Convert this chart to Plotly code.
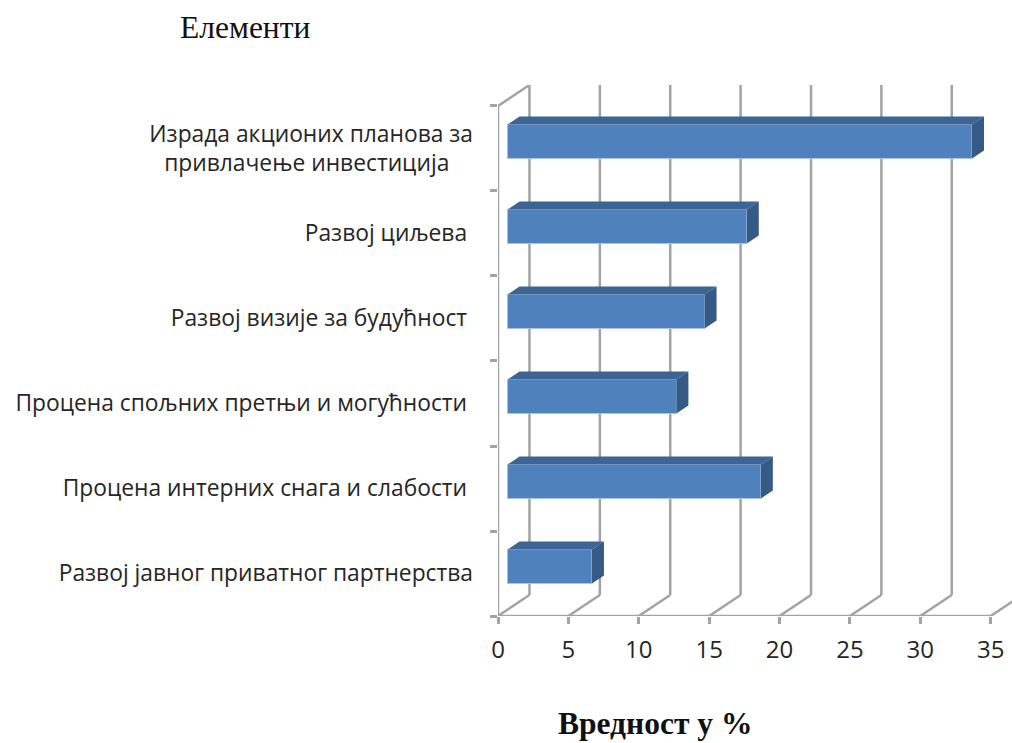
import plotly.graph_objects as go

NB = "\u00a0"
categories = [
    "Развој јавног приватног партнерства",
    "Процена интерних снага и слабости" + NB,
    "Процена спољних претњи и могућности" + NB,
    "Развој визије за будућност" + NB,
    "Развој циљева" + NB,
    "Израда акционих планова за<br>привлачење инвестиција" + NB * 4,
]
values = [6, 18, 12, 14, 17, 33]
x_ticks = [0, 5, 10, 15, 20, 25, 30, 35]

FRONT = "#4F81BD"
TOP = "#3D6594"
SIDE = "#345A85"
EDGE = "#A9C3E2"
GRID = "#A3A3A3"
TEXT = "#262626"

W, H = 1012, 743
X0, Y0, PX_X, PX_Y = 497.5, 616.0, 14.09, 85.05
WALL_DX, WALL_DY = 31.5 / PX_X, 21.0 / PX_Y   # depth of chart floor
BAR_X0 = 9.5 / PX_X                           # bar front face start
BAR_SHIFT = 7.0 / PX_Y                        # bar front face centre shift
BAR_H = 34.0 / PX_Y
BAR_DX, BAR_DY = 12.0 / PX_X, 8.0 / PX_Y      # depth of the bar

n = len(categories)
centres = [i + 0.5 for i in range(n)]
x_max = (W - X0) / PX_X
y_max = n + WALL_DY
TOP_M = Y0 - y_max * PX_Y
plot_w, plot_h = W - X0, H - (H - Y0) - TOP_M


def paper_x(px):
    return (px - X0) / plot_w


def paper_y(py):
    return (Y0 - py) / plot_h


fig = go.Figure()

# back wall and floor grid
shapes = []
for t in x_ticks:
    grid_line = dict(color=GRID, width=2.5)
    shapes.append(dict(type="line", xref="x", yref="y", layer="below", x0=t, y0=0,
                       x1=t + WALL_DX, y1=WALL_DY, line=grid_line))
    shapes.append(dict(type="line", xref="x", yref="y", layer="below", x0=t + WALL_DX, y0=WALL_DY,
                       x1=t + WALL_DX, y1=y_max, line=grid_line))

# front faces
fig.add_trace(go.Bar(
    y=[c + BAR_SHIFT for c in centres], x=values, base=[BAR_X0] * n, orientation="h",
    width=BAR_H, marker=dict(color=FRONT, line=dict(color=EDGE, width=1)), hoverinfo="skip",
))

# top and side faces
for c, v in zip(centres, values):
    xl, xr = BAR_X0, BAR_X0 + v
    yb, yt = c + BAR_SHIFT - BAR_H / 2, c + BAR_SHIFT + BAR_H / 2
    fig.add_trace(go.Scatter(
        x=[xl, xr, xr + BAR_DX, xl + BAR_DX, xl], y=[yt, yt, yt + BAR_DY, yt + BAR_DY, yt],
        fill="toself", fillcolor=TOP, mode="lines", line=dict(width=0), hoverinfo="skip"))
    fig.add_trace(go.Scatter(
        x=[xr, xr + BAR_DX, xr + BAR_DX, xr, xr], y=[yt, yt + BAR_DY, yb + BAR_DY, yb, yt],
        fill="toself", fillcolor=SIDE, mode="lines", line=dict(width=0), hoverinfo="skip"))

# axis lines (left wall and floor front edge)
fig.add_trace(go.Scatter(
    x=[WALL_DX, 0, 0, x_ticks[-1]], y=[y_max, n, 0, 0], mode="lines",
    line=dict(color=GRID, width=2.5), cliponaxis=False, hoverinfo="skip"))

fig.update_layout(
    width=W, height=H, autosize=False, showlegend=False,
    paper_bgcolor="white", plot_bgcolor="white",
    margin=dict(l=X0, r=0, t=TOP_M, b=H - Y0, pad=0),
    shapes=shapes,
    xaxis=dict(range=[0, x_max], tickvals=x_ticks, ticks="outside", ticklen=7, tickwidth=2.5,
               tickcolor=GRID, showgrid=False, zeroline=False, showline=False,
               tickfont=dict(family="Open Sans", size=24, color=TEXT), ticklabelstandoff=5),
    yaxis=dict(range=[0, y_max], tickvals=centres, ticktext=categories, ticks="",
               showgrid=False, zeroline=False, showline=False, ticklabelstandoff=24,
               tickfont=dict(family="Open Sans", size=22.8, color=TEXT),
               minor=dict(tickvals=list(range(n + 1)), ticks="outside", ticklen=7, tickwidth=2.5,
                          tickcolor=GRID, showgrid=False)),
    annotations=[
        dict(text="Елементи", xref="paper", yref="paper", x=paper_x(244.5), y=paper_y(27),
             xanchor="center", yanchor="middle", showarrow=False,
             font=dict(family="Liberation Serif", size=31.5, color="#111111")),
        dict(text="<b>Вредност у %</b>", xref="paper", yref="paper", x=paper_x(654.5), y=paper_y(724),
             xanchor="center", yanchor="middle", showarrow=False,
             font=dict(family="Liberation Serif", size=31.5, color="#111111")),
    ],
)

fig.write_html("out.html", post_script="document.body.style.margin='0';", config=dict(displayModeBar=False))
